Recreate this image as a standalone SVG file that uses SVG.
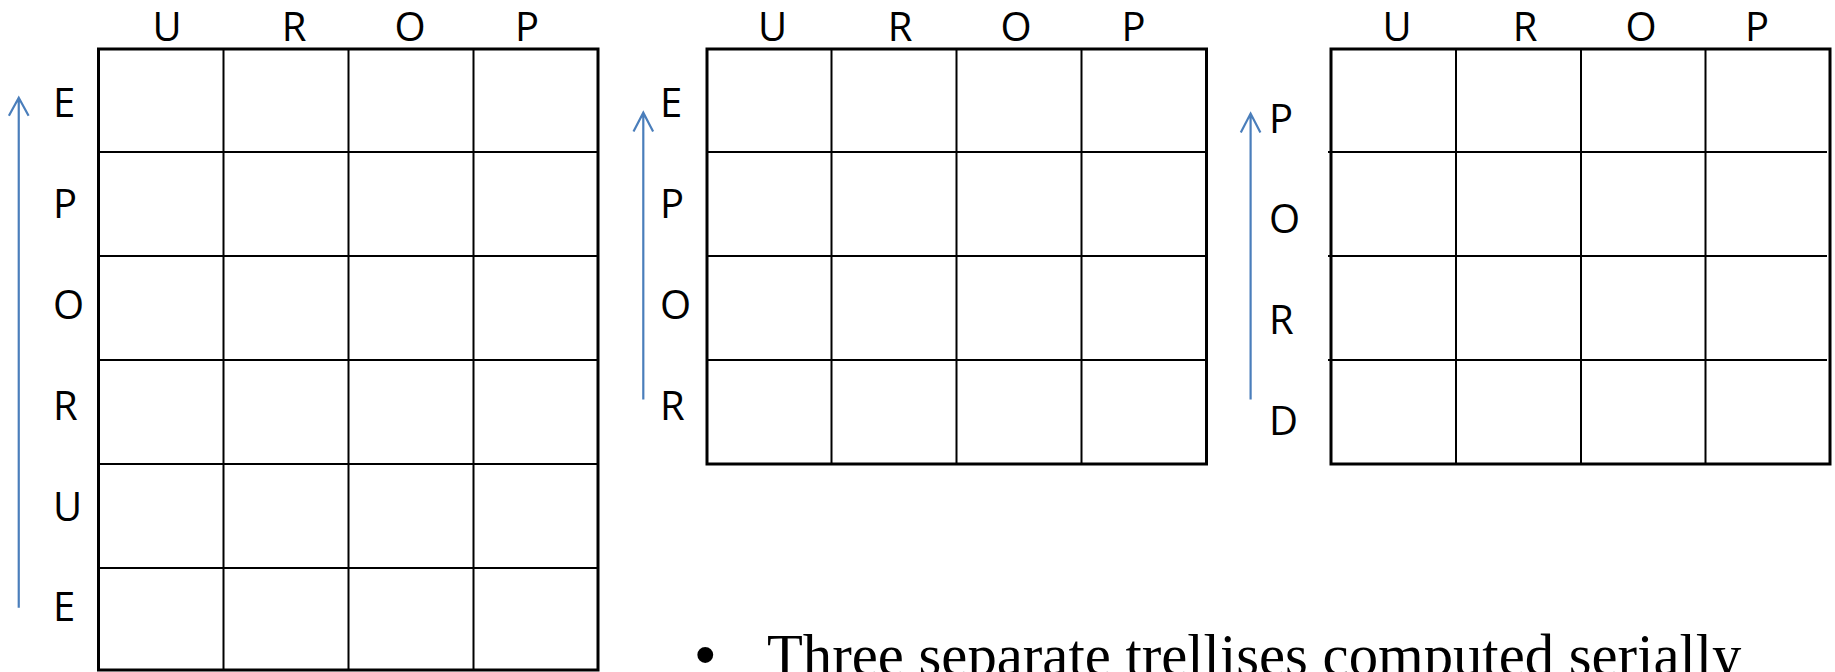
<svg xmlns="http://www.w3.org/2000/svg" width="1835" height="672" viewBox="0 0 1835 672">
<style>
  .outer { fill: none; stroke: #000; stroke-width: 3; }
  .inner { stroke: #000; stroke-width: 2; fill: none; }
  .lbl { font-family: "Open Sans", "Liberation Sans", sans-serif; font-size: 40px; fill: #000; }
  .col { text-anchor: middle; }
  .arrow { stroke: #4A7EBB; stroke-width: 2.2; fill: none; }
  .body { font-family: "Liberation Serif", serif; font-size: 58.7px; fill: #000; }
</style>
<rect width="1835" height="672" fill="#fff"/>

<g id="trellis1">
  <path class="inner" d="M223.5 49V670M348.5 49V670M473.5 49V670M98.5 152H598M98.5 256H598M98.5 360H598M98.5 464H598M98.5 568H598"/>
  <rect class="outer" x="98.5" y="49" width="499.5" height="621"/>
  <g class="lbl col">
    <text x="167" y="41">U</text><text x="294" y="41">R</text><text x="410" y="41">O</text><text x="527" y="41">P</text>
  </g>
  <g class="lbl">
    <text x="53" y="117">E</text><text x="53" y="218">P</text><text x="53" y="318.5">O</text>
    <text x="53" y="420">R</text><text x="53" y="521">U</text><text x="53" y="621">E</text>
  </g>
</g>

<g id="trellis2">
  <path class="inner" d="M831.5 49V464M956.5 49V464M1081.5 49V464M707 152H1206M707 256H1206M707 360H1206"/>
  <rect class="outer" x="707" y="49" width="499.5" height="415"/>
  <g class="lbl col">
    <text x="772.5" y="41">U</text><text x="900" y="41">R</text><text x="1016" y="41">O</text><text x="1133.5" y="41">P</text>
  </g>
  <g class="lbl">
    <text x="660" y="117">E</text><text x="660" y="218">P</text><text x="660" y="318.5">O</text><text x="660" y="420">R</text>
  </g>
</g>

<g id="trellis3">
  <path class="inner" d="M1456 49V464M1581 49V464M1705.5 49V464M1328 152H1827M1328 256H1827M1328 360H1827"/>
  <rect class="outer" x="1331" y="49" width="499" height="415"/>
  <g class="lbl col">
    <text x="1397" y="41">U</text><text x="1525" y="41">R</text><text x="1641" y="41">O</text><text x="1757" y="41">P</text>
  </g>
  <g class="lbl">
    <text x="1269" y="133">P</text><text x="1269" y="233">O</text><text x="1269" y="334">R</text><text x="1269" y="435">D</text>
  </g>
</g>

<g id="connectors">
  <path class="arrow" d="M18.75 607.7V98.5M8.9 115.7L18.75 97.7L28.6 115.7"/>
  <path class="arrow" d="M643.3 399.5V113.5M633.5 131.5L643.3 112.7L653.1 131.5"/>
  <path class="arrow" d="M1250.6 399.5V114.5M1240.8 132.5L1250.6 113.6L1260.4 132.5"/>
</g>

<g id="caption">
  <text class="body" x="767" y="675"><tspan font-family="Liberation Sans, sans-serif" x="695">•</tspan><tspan x="767">Three separate trellises computed serially</tspan></text>
</g>
</svg>
